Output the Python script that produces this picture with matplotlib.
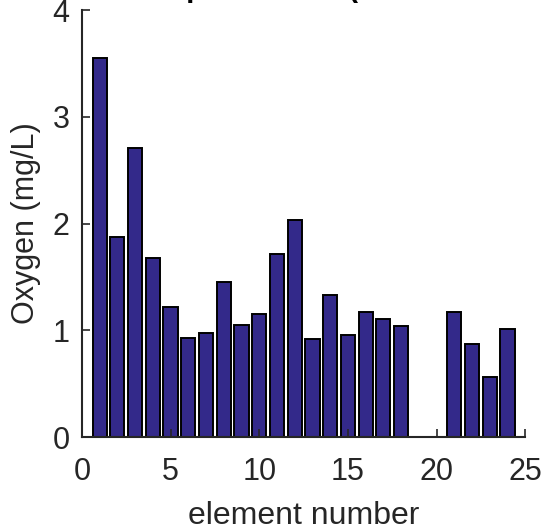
import matplotlib
matplotlib.use("Agg")
import matplotlib.pyplot as plt
import numpy as np

plt.rcParams['font.family'] = ['Liberation Sans', 'DejaVu Sans']

elements = list(range(1, 25))
oxygen = [3.55, 1.87, 2.71, 1.68, 1.22, 0.93, 0.98, 1.45, 1.05, 1.15,
          1.72, 2.03, 0.92, 1.33, 0.96, 1.17, 1.11, 1.04, 0.0, 0.0,
          1.17, 0.87, 0.56, 1.01]
xticks = [0, 5, 10, 15, 20, 25]
yticks = [0, 1, 2, 3, 4]

fig = plt.figure(figsize=(5.46, 5.28), dpi=100)
ax = fig.add_axes([0.150, 0.172, 0.812, 0.809])

ax.bar(elements, oxygen, width=0.8, color='#33298a', edgecolor='black', linewidth=1.4)

ax.set_xlim(0, 25)
ax.set_ylim(0, 4)
ax.set_xticks(xticks)
ax.set_yticks(yticks)
for s in ['top', 'right']:
    ax.spines[s].set_visible(False)
for s in ['left', 'bottom']:
    ax.spines[s].set_linewidth(1.5)
    ax.spines[s].set_color('#262626')
ax.tick_params(direction='in', length=6, width=1.2, colors='#262626',
               labelsize=22)
ax.tick_params(axis='x', pad=14)
ax.tick_params(axis='y', pad=9)
ax.set_xlabel('element number', fontsize=23, color='#262626', labelpad=10)
ax.set_ylabel('Oxygen (mg/L)', fontsize=22, color='#262626', labelpad=8)

fig.text(0.244, 1.006, 'Deep water DO (all 24 stations in total)', fontsize=21,
         fontweight='bold', ha='left', va='baseline')

fig.savefig('out.png', dpi=100)
